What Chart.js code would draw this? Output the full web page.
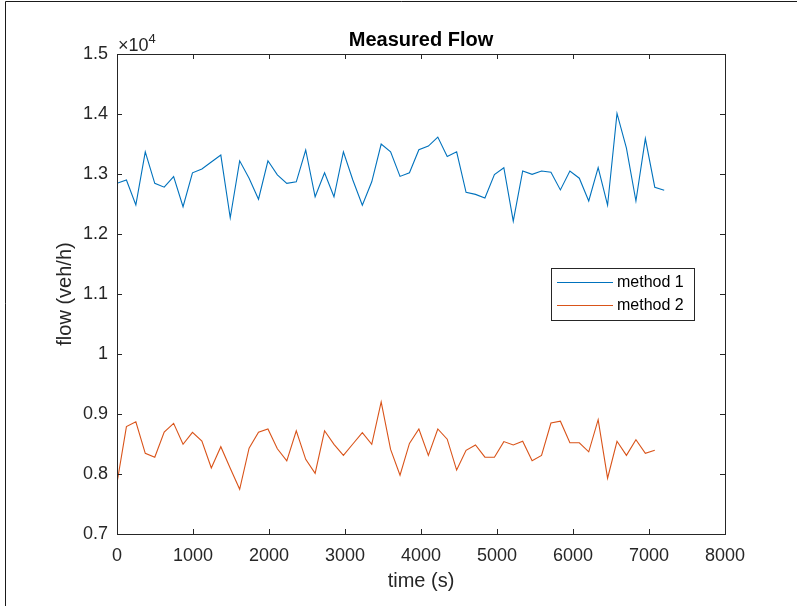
<!DOCTYPE html>
<html>
<head>
<meta charset="utf-8">
<script src="https://cdn.jsdelivr.net/npm/chart.js@4.4.0/dist/chart.umd.min.js"></script>
<style>
  html, body { margin: 0; padding: 0; background: #fff; }
  canvas { display: block; }
</style>
</head>
<body>
<canvas id="flowChart" width="797" height="606"></canvas>
<script>
// sample times (s)
const timeSec = [0, 124, 248, 372, 497, 621, 745, 869, 993, 1117, 1241, 1366, 1490, 1614, 1738, 1862,
  1986, 2110, 2234, 2359, 2483, 2607, 2731, 2855, 2979, 3103, 3228, 3352, 3476, 3600, 3724, 3848,
  3972, 4097, 4221, 4345, 4469, 4593, 4717, 4841, 4966, 5090, 5214, 5338, 5462, 5586, 5710, 5834,
  5959, 6083, 6207, 6331, 6455, 6579, 6703, 6828, 6952, 7076, 7200];

// flow (veh/h)
const method1 = [12845, 12900, 12485, 13370, 12845, 12780, 12955, 12455, 13020, 13085,
  13200, 13315, 12270, 13220, 12930, 12580, 13220, 12985, 12845, 12870,
  13400, 12620, 13020, 12620, 13370, 12900, 12480, 12870, 13500, 13370,
  12960, 13020, 13405, 13465, 13615, 13290, 13370, 12695, 12660, 12600,
  12990, 13105, 12215, 13050, 12995, 13050, 13030, 12735, 13050, 12930,
  12550, 13105, 12480, 14010, 13430, 12550, 13590, 12780, 12730];

const method2 = [7850, 8790, 8870, 8345, 8280, 8700, 8845, 8495, 8695, 8550,
  8100, 8455, 8095, 7745, 8430, 8695, 8750, 8420, 8220, 8720,
  8245, 8010, 8720, 8495, 8310, 8500, 8690, 8495, 9200, 8410,
  7980, 8510, 8750, 8310, 8750, 8580, 8065, 8395, 8485, 8280,
  8280, 8540, 8485, 8545, 8220, 8310, 8850, 8880, 8520, 8520,
  8370, 8905, 7930, 8545, 8310, 8570, 8345, 8395];

const seriesLabels = ['method 1', 'method 2'];
const seriesColors = ['#0072BD', '#D95319'];
const xTicks = [0, 1000, 2000, 3000, 4000, 5000, 6000, 7000, 8000];
const yTicks = [7000, 8000, 9000, 10000, 11000, 12000, 13000, 14000, 15000];
const chartTitle = 'Measured Flow';

const axisColor = '#262626';
const fontFamily = '"Liberation Sans", Arial, Helvetica, sans-serif';

const toPoints = vals => vals.map((v, i) => ({ x: timeSec[i], y: v }));

// MATLAB style box, inward ticks, title, exponent label, legend and figure edge
const matlabFrame = {
  id: 'matlabFrame',
  afterDraw(chart) {
    const { ctx, chartArea: a, scales: { x, y } } = chart;
    ctx.save();

    // figure edge (left + top)
    ctx.strokeStyle = '#1a1a1a';
    ctx.lineWidth = 1;
    ctx.beginPath();
    ctx.moveTo(5.5, 606); ctx.lineTo(5.5, 1.5); ctx.lineTo(797, 1.5);
    ctx.stroke();

    ctx.strokeStyle = axisColor;
    ctx.beginPath();
    xTicks.forEach(v => {
      const px = Math.round(x.getPixelForValue(v)) + 0.5;
      ctx.moveTo(px, a.bottom); ctx.lineTo(px, a.bottom - 5);
      ctx.moveTo(px, a.top); ctx.lineTo(px, a.top + 5);
    });
    yTicks.forEach(v => {
      const py = Math.round(y.getPixelForValue(v)) + 0.5;
      ctx.moveTo(a.left, py); ctx.lineTo(a.left + 5, py);
      ctx.moveTo(a.right, py); ctx.lineTo(a.right - 5, py);
    });
    ctx.stroke();
    ctx.strokeRect(a.left + 0.5, a.top + 0.5, a.right - a.left, a.bottom - a.top);

    // title, centred over the axes
    ctx.fillStyle = '#000';
    ctx.textAlign = 'center';
    ctx.textBaseline = 'alphabetic';
    ctx.font = 'bold 20px ' + fontFamily;
    ctx.fillText(chartTitle, (a.left + a.right) / 2, 46);

    // x10^4 multiplier
    ctx.fillStyle = axisColor;
    ctx.textAlign = 'left';
    ctx.font = '18px ' + fontFamily;
    ctx.fillText('\u00d710', a.left + 1, 51);
    const w = ctx.measureText('\u00d710').width;
    ctx.font = '13px ' + fontFamily;
    ctx.fillText('4', a.left + 1 + w, 43);

    // legend
    const lx = 551, ly = 268, lw = 143, lh = 52;
    ctx.fillStyle = '#fff';
    ctx.fillRect(lx, ly, lw, lh);
    ctx.strokeStyle = axisColor;
    ctx.strokeRect(lx + 0.5, ly + 0.5, lw, lh);
    ctx.font = '16px ' + fontFamily;
    ctx.textBaseline = 'middle';
    chart.data.datasets.forEach((ds, i) => {
      const rowY = ly + 14 + i * 23;
      ctx.strokeStyle = ds.borderColor;
      ctx.lineWidth = 1;
      ctx.beginPath();
      ctx.moveTo(lx + 6, rowY + 0.5); ctx.lineTo(lx + 62, rowY + 0.5);
      ctx.stroke();
      ctx.fillStyle = '#000';
      ctx.fillText(ds.label, lx + 66, rowY + 1);
    });
    ctx.restore();
  }
};

new Chart(document.getElementById('flowChart'), {
  type: 'line',
  data: {
    datasets: [
      { label: seriesLabels[0], data: toPoints(method1), borderColor: seriesColors[0] },
      { label: seriesLabels[1], data: toPoints(method2), borderColor: seriesColors[1] }
    ]
  },
  options: {
    responsive: false,
    animation: false,
    layout: { padding: { left: 0, right: 72, top: 54, bottom: 0 } },
    elements: {
      line: { borderWidth: 1.1, tension: 0, fill: false },
      point: { radius: 0 }
    },
    plugins: {
      legend: { display: false },
      tooltip: { enabled: false },
      title: { display: false }
    },
    scales: {
      x: {
        type: 'linear',
        min: 0,
        max: 8000,
        afterFit: s => { s.height = 72; },
        afterBuildTicks: s => { s.ticks = xTicks.map(v => ({ value: v })); },
        grid: { display: false, drawTicks: false },
        border: { display: false },
        ticks: {
          color: axisColor,
          padding: 11,
          maxRotation: 0,
          font: { family: fontFamily, size: 18 },
          callback: v => String(v)
        },
        title: {
          display: true,
          text: 'time (s)',
          color: axisColor,
          font: { family: fontFamily, size: 20 },
          padding: { top: 0, bottom: 13 }
        }
      },
      y: {
        type: 'linear',
        min: 7000,
        max: 15000,
        afterFit: s => { s.width = 117; },
        afterBuildTicks: s => { s.ticks = yTicks.map(v => ({ value: v })); },
        grid: { display: false, drawTicks: false },
        border: { display: false },
        ticks: {
          color: axisColor,
          padding: 9,
          font: { family: fontFamily, size: 18 },
          callback: v => String(v / 10000)
        },
        title: {
          display: true,
          text: 'flow (veh/h)',
          color: axisColor,
          font: { family: fontFamily, size: 20 },
          padding: { top: 53, bottom: 0 }
        }
      }
    }
  },
  plugins: [matlabFrame]
});
</script>
</body>
</html>
